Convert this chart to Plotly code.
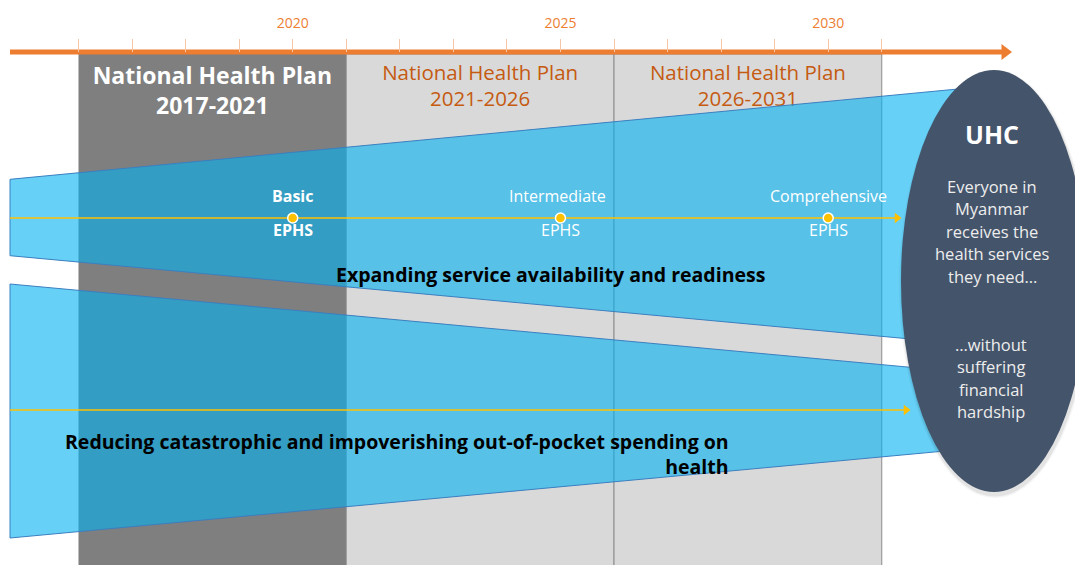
import plotly.graph_objects as go

# ---- timeline data -------------------------------------------------------
tick_years = list(range(2016, 2032))
label_years = [2020, 2025, 2030]
label_text = ["2020", "2025", "2030"]

plan_starts = [2016, 2021, 2026]
plan_ends = [2021, 2026, 2031]
plan_titles = ["National Health Plan", "National Health Plan", "National Health Plan"]
plan_periods = ["2017-2021", "2021-2026", "2026-2031"]

milestone_years = [2020, 2025, 2030]
milestone_levels = ["Basic", "Intermediate", "Comprehensive"]
milestone_package = ["EPHS", "EPHS", "EPHS"]

track_titles = [
    "Expanding service availability and readiness",
    "Reducing catastrophic and impoverishing out-of-pocket spending on<br>health",
]

goal_title = "UHC"
goal_access = ["Everyone in", "Myanmar", "receives the", "health services", "they need…"]
goal_protection = ["…without", "suffering", "financial", "hardship"]

# ---- canvas geometry -----------------------------------------------------
W, H = 1075, 565
X0 = 2014.534          # year at the left edge
PXY = 53.55            # pixels per year
X1 = X0 + W / PXY


def xp(px):
    """horizontal pixel position -> year"""
    return X0 + px / PXY


FONT = "Open Sans"
ORANGE = "#ED7D31"
PLAN_ORANGE = "#C55A11"
GOLD = "#FFC000"
BLUE_FILL = "rgba(0,176,240,0.60)"
BLUE_EDGE = "#3B7FC0"
SLATE = "#44546A"

fig = go.Figure()

# ---- plan period boxes (below everything) -------------------------------
shapes = []
for i, (s, e) in enumerate(zip(plan_starts, plan_ends)):
    first = i == 0
    shapes.append(dict(
        type="rect", xref="x", yref="y", x0=s, x1=e, y0=54, y1=H + 5,
        fillcolor="#7F7F7F" if first else "#D9D9D9",
        line=dict(color="#8C8C8C", width=1 if not first else 0),
        layer="below",
    ))

# plan titles drawn as text traces so the bands can pass over them
for i, (s, e) in enumerate(zip(plan_starts, plan_ends)):
    first = i == 0
    fig.add_trace(go.Scatter(
        x=[(s + e) / 2], y=[93 if first else 88], mode="text",
        text=[f"{plan_titles[i]}<br>{plan_periods[i]}"],
        textposition="middle center",
        textfont=dict(family=FONT, size=23 if first else 20.5,
                      color="white" if first else PLAN_ORANGE,
                      weight="bold" if first else "normal"),
        hoverinfo="skip", showlegend=False,
    ))

# ---- the two widening / narrowing bands ---------------------------------
bands = [
    [(10, 179.3), (958, 89.0), (958, 343.4), (10, 255.7)],
    [(10, 284.0), (958, 371.7), (958, 449.8), (10, 538.0)],
]
for poly in bands:
    xs = [xp(p[0]) for p in poly] + [xp(poly[0][0])]
    ys = [p[1] for p in poly] + [poly[0][1]]
    fig.add_trace(go.Scatter(
        x=xs, y=ys, mode="lines", fill="toself", fillcolor=BLUE_FILL,
        line=dict(color=BLUE_EDGE, width=1), hoverinfo="skip", showlegend=False,
    ))

# ---- gold progress arrows ------------------------------------------------
for y, tip in [(218, 901), (410, 910)]:
    fig.add_trace(go.Scatter(
        x=[xp(10), xp(tip - 3)], y=[y, y], mode="lines",
        line=dict(color=GOLD, width=1.6), hoverinfo="skip", showlegend=False,
    ))
    fig.add_trace(go.Scatter(
        x=[xp(tip - 4)], y=[y], mode="markers",
        marker=dict(symbol="triangle-right", size=9, color=GOLD, line=dict(width=0)),
        hoverinfo="skip", showlegend=False,
    ))

# EPHS milestones
fig.add_trace(go.Scatter(
    x=milestone_years, y=[218] * len(milestone_years), mode="markers",
    marker=dict(size=10, color=GOLD, line=dict(color="white", width=1.5)),
    hoverinfo="skip", showlegend=False,
))

# ---- orange timeline arrow -----------------------------------------------
fig.add_trace(go.Scatter(
    x=[xp(10), xp(1002)], y=[52, 52], mode="lines",
    line=dict(color=ORANGE, width=5), hoverinfo="skip", showlegend=False,
))
fig.add_trace(go.Scatter(
    x=[xp(1005)], y=[52], mode="markers",
    marker=dict(symbol="triangle-right", size=14, color=ORANGE, line=dict(width=0)),
    hoverinfo="skip", showlegend=False,
))

# ---- UHC goal ellipse -------------------------------------------------------
cx, cy, rx, ry = 994, 281, 93, 211
for grow, alpha in [(3, 0.04), (1.5, 0.07)]:
    shapes.append(dict(
        type="circle", xref="x", yref="y",
        x0=xp(cx - rx - grow + 1), x1=xp(cx + rx + grow + 1),
        y0=cy - ry - grow + 3, y1=cy + ry + grow + 3,
        fillcolor=f"rgba(0,0,0,{alpha})", line=dict(width=0), layer="above",
    ))
shapes.append(dict(
    type="circle", xref="x", yref="y",
    x0=xp(cx - rx), x1=xp(cx + rx), y0=cy - ry, y1=cy + ry,
    fillcolor=SLATE, line=dict(width=0), layer="above",
))

annotations = []


def note(x, y, text, size, color, bold=False, **kw):
    annotations.append(dict(
        x=x, y=y, xref="x", yref="y", text=text, showarrow=False,
        font=dict(family=FONT, size=size, color=color,
                  weight="bold" if bold else "normal"),
        **kw,
    ))


# milestone labels
for i, yr in enumerate(milestone_years):
    bold = i == 0
    note(yr - (0.05 if i == 1 else 0), 196, milestone_levels[i], 16, "white", bold)
    note(yr, 230, milestone_package[i], 16, "white", bold)

# band titles
note(xp(550), 274, track_titles[0], 19.5, "black", True)
note(xp(731), 454, track_titles[1], 19.5, "black", True,
     xanchor="right", align="right")

# goal text
note(xp(992), 134, goal_title, 25, "white", True)
for j, line in enumerate(goal_access):
    note(xp(992), 186 + j * 22.6, line, 16.5, "#EDEDED")
for j, line in enumerate(goal_protection):
    note(xp(991), 344 + j * 22.5, line, 16.5, "#EDEDED")

fig.update_layout(
    width=W, height=H,
    margin=dict(l=0, r=0, t=0, b=0),
    paper_bgcolor="white", plot_bgcolor="white",
    shapes=shapes, annotations=annotations,
    showlegend=False,
    xaxis=dict(
        range=[X0, X1], side="top", anchor="free", position=1 - 52 / H,
        showgrid=False, zeroline=False, showline=False, fixedrange=True,
        tickmode="array", tickvals=label_years, ticktext=label_text,
        ticks="outside", ticklen=13, tickwidth=1, tickcolor="#F6C7A6",
        ticklabelstandoff=5,
        tickfont=dict(family=FONT, size=14, color=ORANGE),
        minor=dict(tickvals=tick_years, ticks="outside", ticklen=13,
                   tickwidth=1, tickcolor="#F6C7A6", showgrid=False),
    ),
    yaxis=dict(
        range=[H, 0], visible=False, showgrid=False, zeroline=False,
        fixedrange=True,
    ),
)

fig.write_html("out.html")
